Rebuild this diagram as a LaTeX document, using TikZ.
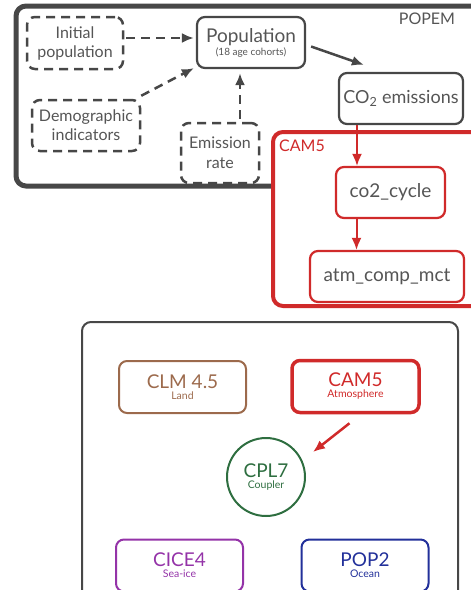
\documentclass[tikz,border=0pt]{standalone}
\usepackage{fontspec}
\setmainfont{Lato}
\usetikzlibrary{calc,arrows.meta}
\definecolor{popgray}{HTML}{474747}
\definecolor{txtgray}{HTML}{555555}
\definecolor{camred}{HTML}{D02A2A}
\definecolor{clmbrown}{HTML}{9C6A4C}
\definecolor{cplgreen}{HTML}{2E6E40}
\definecolor{icepurple}{HTML}{9433A8}
\definecolor{popblue}{HTML}{22309A}

\begin{document}
\begin{tikzpicture}[
x=1pt, y=-1pt,
box/.style={
	draw=popgray, line width=2.2pt,
	rounded corners=8pt, align=center,
	inner sep=0pt, text=txtgray
},
dbox/.style={box, line width=2.5pt, dash pattern=on 9pt off 6pt},
rbox/.style={box, draw=camred},
cbox/.style={
	draw=#1, text=#1, line width=2pt,
	rounded corners=8pt, align=center, inner sep=0pt,
	minimum width=127pt, minimum height=52pt
},
arr/.style={line width=2.5pt, draw=popgray, -{Latex[length=12pt,width=10pt]}},
darr/.style={arr, dash pattern=on 9pt off 6pt},
rarr/.style={arr, line width=2pt, draw=camred, fill=camred}
]
\useasboundingbox (0,0) rectangle (471,590);
\clip (0,0) rectangle (471,590);
% frames
\draw[popgray, line width=5pt, rounded corners=10pt] (16,6) rectangle (500,186);
\node[text=txtgray, font=\fontsize{16}{16}\selectfont] (popemlbl) at (427,19) {POPEM};
\draw[camred, line width=4pt, rounded corners=10pt, fill=white] (273,132) rectangle (500,306);
\node[text=camred, font=\fontsize{16}{16}\selectfont] (camlbl) at (302,146) {CAM5};
\draw[popgray, line width=2pt, rounded corners=9pt] (82,322) rectangle (458,620);
% POPEM nodes
\node[dbox, minimum width=96pt, minimum height=52pt, font=\fontsize{16}{19}\selectfont] (init) at (75,43) {Initial\\population};
\node[box, minimum width=108pt, minimum height=51pt] (pop) at (251,42.5)
	{{\fontsize{19}{19}\selectfont Population}\\[1pt]{\fontsize{10}{10}\selectfont (18 age cohorts)}};
\node[dbox, minimum width=108pt, minimum height=51pt, font=\fontsize{16}{19}\selectfont] (demo) at (86,125.5) {Demographic\\indicators};
\node[dbox, minimum width=78pt, minimum height=60pt, font=\fontsize{16}{20}\selectfont] (emis) at (220,153) {Emission\\rate};
\node[box, minimum width=124pt, minimum height=51pt, font=\fontsize{18}{18}\selectfont] (co2) at (401,98.5) {CO\textsubscript{2} emissions};
% CAM5 nodes
\node[rbox, minimum width=109pt, minimum height=51pt, font=\fontsize{19}{19}\selectfont] (cyc) at (390.5,192.5) {co2\_cycle};
\node[rbox, minimum width=154pt, minimum height=51pt, font=\fontsize{19}{19}\selectfont] (atm) at (387,276.5) {atm\_comp\_mct};
% CESM components
\node[cbox=clmbrown] (clm) at (182.5,387)
	{{\fontsize{19}{19}\selectfont CLM 4.5}\\[-1pt]{\fontsize{10.5}{10.5}\selectfont Land}};
\node[cbox=camred, line width=3.5pt] (camb) at (355.5,386.5)
	{{\fontsize{19}{19}\selectfont CAM5}\\[-1pt]{\fontsize{10.5}{10.5}\selectfont Atmosphere}};
\node[cbox=cplgreen, circle, minimum size=78pt] (cpl) at (266,477)
	{{\fontsize{19}{19}\selectfont CPL7}\\[-1pt]{\fontsize{10.5}{10.5}\selectfont Coupler}};
\node[cbox=icepurple] (cice) at (179.5,565.5)
	{{\fontsize{19}{19}\selectfont CICE4}\\[-1pt]{\fontsize{10.5}{10.5}\selectfont Sea-ice}};
\node[cbox=popblue] (pop2) at (365,565.5)
	{{\fontsize{19}{19}\selectfont POP2}\\[-1pt]{\fontsize{10.5}{10.5}\selectfont Ocean}};
% connectors
\draw[darr] ([shift={(2,-5)}]init.east) -- ([shift={(-2,-5)}]init.east -| pop.west);
\draw[darr] ([shift={(0,-3)}]demo.north east) -- ([shift={(-2,-1)}]pop.south west);
\draw[darr] ([shift={(20,-3)}]emis.north) -- ([shift={(20,4)}]emis.north |- pop.south);
\draw[arr] ([shift={(5,4)}]pop.east) -- ([shift={(26,-7)}]co2.north west);
\draw[rarr] ([xshift=-44pt]co2.south) -- ([xshift=-44pt]co2.south |- cyc.north);
\draw[rarr] ([xshift=-34pt]cyc.south) -- ([xshift=-34pt]cyc.south |- atm.north);
\draw[rarr, line width=2.5pt] ([shift={(-6,9)}]camb.south) -- ([shift={(47,-25)}]cpl.center);
\end{tikzpicture}
\end{document}
